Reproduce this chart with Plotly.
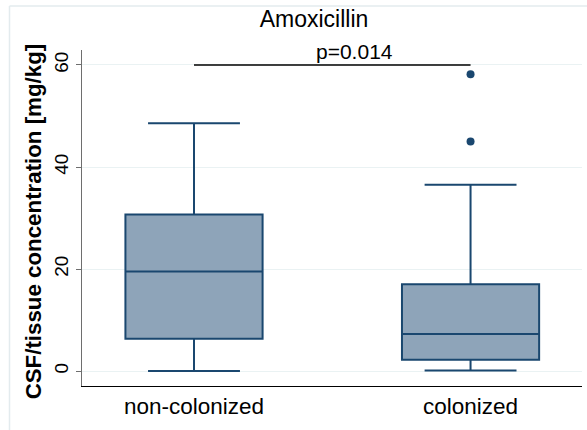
import plotly.graph_objects as go

# ---- data ----
categories = ["non-colonized", "colonized"]
cat_pos = [0, 1]
q1 = [6.3, 2.2]
median = [19.5, 7.25]
q3 = [30.7, 17.0]
lower_whisker = [0.0, 0.1]
upper_whisker = [48.6, 36.5]
outlier_x = [1, 1]
outlier_y = [58.2, 45.0]
sig_x = [0, 1]
sig_y = [60, 60]
p_label = "p=0.014"
p_label_x = 0.58
y_ticks = [0, 20, 40, 60]

NAVY = "#1a476f"
FILL = "#8ea4b9"
GRID = "#eaf2f3"
FONT = "Liberation Sans, Arial, Helvetica, sans-serif"

fig = go.Figure()

for i in range(len(categories)):
    fig.add_trace(go.Box(
        x=[cat_pos[i]], q1=[q1[i]], median=[median[i]], q3=[q3[i]],
        lowerfence=[lower_whisker[i]], upperfence=[upper_whisker[i]],
        width=0.496, whiskerwidth=0.67,
        fillcolor=FILL, line=dict(color=NAVY, width=2),
        boxpoints=False, showlegend=False, hoverinfo="skip",
    ))

fig.add_trace(go.Scatter(
    x=outlier_x, y=outlier_y, mode="markers",
    marker=dict(color=NAVY, size=8), showlegend=False, hoverinfo="skip",
))

fig.add_trace(go.Scatter(
    x=sig_x, y=sig_y, mode="lines",
    line=dict(color="black", width=1.5), showlegend=False, hoverinfo="skip",
))

fig.add_annotation(
    x=p_label_x, y=sig_y[0], xref="x", yref="y", text=p_label,
    showarrow=False, yanchor="bottom", yshift=0,
    font=dict(family=FONT, size=21, color="black"),
)

fig.add_annotation(
    x=-0.098, y=0.49, xref="paper", yref="paper",
    text="<b>CSF/tissue concentration [mg/kg]</b>", textangle=-90,
    showarrow=False, xanchor="center", yanchor="middle",
    font=dict(family=FONT, size=22.3, color="black"),
)

# outer graph-region frame (light)
fig.add_shape(type="line", xref="paper", yref="paper",
              x0=-0.145, x1=1.2, y0=1.131, y1=1.131,
              line=dict(color="#e3ebee", width=1.5))
fig.add_shape(type="line", xref="paper", yref="paper",
              x0=-0.145, x1=-0.145, y0=-0.2, y1=1.131,
              line=dict(color="#e3ebee", width=1.5))

fig.update_layout(
    width=587, height=430,
    margin=dict(l=82, r=5, t=50, b=44, autoexpand=False),
    paper_bgcolor="white", plot_bgcolor="white",
    title=dict(text="Amoxicillin", x=0.464, xref="paper", xanchor="center",
               y=1 - 19 / 430, yref="container", yanchor="middle",
               font=dict(family=FONT, size=23, color="black")),
    font=dict(family=FONT, color="black"),
    xaxis=dict(range=[-0.405, 1.403], tickvals=cat_pos, ticktext=categories,
               showgrid=False, zeroline=False, showline=True,
               linecolor="black", linewidth=1, ticks="", ticklen=0,
               tickfont=dict(family=FONT, size=22.5, color="black")),
    yaxis=dict(range=[-2.94, 62.94], tickvals=y_ticks, showgrid=True,
               gridcolor=GRID, gridwidth=1, zeroline=False, showline=True,
               linecolor="#6e6e6e", linewidth=1, ticks="outside", ticklen=5,
               tickcolor="#6e6e6e", tickangle=-90,
               tickfont=dict(family=FONT, size=19, color="black")),
)

fig.write_html("out.html", config={"displayModeBar": False},
               post_script="document.body.style.margin='0';document.body.style.padding='0';")
